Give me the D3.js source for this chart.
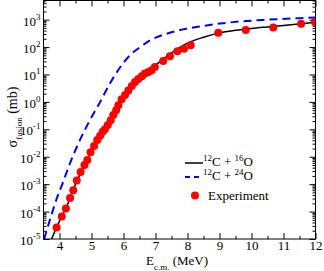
<!DOCTYPE html>
<html lang="en">
<head>
<meta charset="utf-8"/>
<title>12C+16O fusion</title>
<script src="https://d3js.org/d3.v7.min.js"></script>
<style>
  body { margin: 0; background: #fff; }
  svg { display: block; }
  svg text { font-family: 'Liberation Serif', serif !important; fill: #000; }
  .tick line { stroke: #000; }
  .domain { display: none; }
</style>
</head>
<body>
<div id="chart"></div>
<script>
// experiment: energy (MeV) and cross section (mb)
var expE   = [3.91, 4.07, 4.20, 4.33, 4.43, 4.54, 4.66, 4.78, 4.87, 4.97, 5.08, 5.18, 5.27, 5.35, 5.42, 5.51,
              5.60, 5.68, 5.77, 5.84, 5.94, 6.05, 6.15, 6.26, 6.36, 6.46, 6.57, 6.67, 6.78, 6.88, 6.98,
              7.24, 7.45, 7.68, 7.89, 8.10, 8.96, 9.82, 10.68, 11.55, 11.98];
var expSig = [2.6e-5, 6.6e-5, 1.3e-4, 3.1e-4, 6e-4, 1.35e-3, 2.8e-3, 5e-3, 7.6e-3, 1.45e-2, 2.45e-2, 4.1e-2, 5.8e-2, 8.1e-2, 0.10, 0.143,
              0.216, 0.33, 0.5, 0.76, 1.26, 1.8, 2.6, 3.8, 5.3, 6.8, 8.6, 10.8, 12.3, 14.2, 18.7,
              31, 46, 70, 87, 116, 334, 417, 521, 710, 815];

// 12C + 16O calculation
var c16E   = [3.75, 4.0, 4.25, 4.5, 4.75, 5.0, 5.25, 5.5, 5.75, 6.0, 6.25, 6.5, 6.75, 7.0, 7.5, 8.0, 8.5, 9.0, 9.5, 10, 10.5, 11, 11.5, 12];
var c16Sig = [1e-5, 4.5e-5, 1.8e-4, 1.0e-3, 4.2e-3, 1.6e-2, 5.5e-2, 0.17, 0.5, 1.4, 3.6, 8, 14, 22, 62, 140, 230, 330, 410, 480, 545, 615, 700, 800];

// 12C + 24O calculation
var c24E   = [3.52, 3.7, 3.9, 4.1, 4.33, 4.64, 4.95, 5.27, 5.58, 5.89, 6.2, 6.52, 6.83, 7.35, 7.86, 8.39, 9.42, 10.48, 11.52, 12];
var c24Sig = [1e-5, 5e-5, 2.7e-4, 1.1e-3, 5.9e-3, 0.041, 0.216, 1.0, 4.8, 18, 50, 100, 176, 308, 442, 568, 813, 993, 1135, 1200];

var xTicks = [4, 5, 6, 7, 8, 9, 10, 11, 12];
var yExp = [-5, -4, -3, -2, -1, 0, 1, 2, 3];

var W = 324, H = 271;
var L = 43.5, R = 315.5, T = 0.5, B = 239;

var svg = d3.select("#chart").append("svg")
  .attr("width", W)
  .attr("height", H);

var x = d3.scaleLinear().domain([3.5, 12]).range([L, R]);
var y = d3.scaleLog().domain([1e-5, 5000]).range([B, T]);

// tick values
var xMinor = d3.range(3.5, 12.01, 0.5).filter(function(v) { return v % 1 !== 0; });
var yMajor = yExp.map(function(e) { return Math.pow(10, e); });
var yMinor = [];
for (var e = -5; e <= 3; e++) {
  for (var k = 2; k <= 9; k++) {
    var v = k * Math.pow(10, e);
    if (v <= 5000) yMinor.push(v);
  }
}

// bottom / top axes
var gxb = svg.append("g").attr("transform", "translate(0," + B + ")");
gxb.call(d3.axisBottom(x).tickValues(xTicks).tickSize(-6).tickPadding(2).tickFormat(d3.format("d")));
gxb.selectAll("text").attr("font-size", 13).attr("fill", "#000");
gxb.append("g").call(d3.axisBottom(x).tickValues(xMinor).tickSize(-3).tickFormat(""));

var gxt = svg.append("g").attr("transform", "translate(0," + T + ")");
gxt.call(d3.axisTop(x).tickValues(xTicks).tickSize(-6).tickFormat(""));
gxt.append("g").call(d3.axisTop(x).tickValues(xMinor).tickSize(-3).tickFormat(""));

// left / right axes
var gyl = svg.append("g").attr("transform", "translate(" + L + ",0)");
gyl.call(d3.axisLeft(y).tickValues(yMajor).tickSize(-6).tickFormat(""));
gyl.append("g").call(d3.axisLeft(y).tickValues(yMinor).tickSize(-3).tickFormat(""));

var gyr = svg.append("g").attr("transform", "translate(" + R + ",0)");
gyr.call(d3.axisRight(y).tickValues(yMajor).tickSize(-6).tickFormat(""));
gyr.append("g").call(d3.axisRight(y).tickValues(yMinor).tickSize(-3).tickFormat(""));

// y tick labels 10^n
svg.append("g").selectAll("text")
  .data(yExp)
  .enter().append("text")
  .attr("x", L - 3)
  .attr("y", function(d) { return y(Math.pow(10, d)) + 6; })
  .attr("text-anchor", "end")
  .attr("font-size", 13)
  .each(function(d) {
    var t = d3.select(this);
    t.append("tspan").text("10");
    t.append("tspan").attr("dy", -6).attr("font-size", 9).text(d < 0 ? "-" + (-d) : String(d));
  });

// clip
svg.append("clipPath").attr("id", "clip")
  .append("rect").attr("x", L).attr("y", T).attr("width", R - L).attr("height", B - T);

var plot = svg.append("g").attr("clip-path", "url(#clip)");

var line = d3.line()
  .x(function(d) { return x(d[0]); })
  .y(function(d) { return y(d[1]); })
  .curve(d3.curveMonotoneX);

plot.append("path")
  .datum(d3.zip(c24E, c24Sig))
  .attr("d", line)
  .attr("fill", "none")
  .attr("stroke", "#0000ff")
  .attr("stroke-width", 2)
  .attr("stroke-dasharray", "8,5");

plot.append("path")
  .datum(d3.zip(c16E, c16Sig))
  .attr("d", line)
  .attr("fill", "none")
  .attr("stroke", "#000")
  .attr("stroke-width", 1.5);

plot.selectAll("circle")
  .data(d3.zip(expE, expSig))
  .enter().append("circle")
  .attr("cx", function(d) { return x(d[0]); })
  .attr("cy", function(d) { return y(d[1]); })
  .attr("r", 4)
  .attr("fill", "#ff0000");

// frame
svg.append("rect")
  .attr("x", L).attr("y", T)
  .attr("width", R - L).attr("height", B - T)
  .attr("fill", "none")
  .attr("stroke", "#000")
  .attr("stroke-width", 1);

// axis titles
var xt = svg.append("text")
  .attr("x", 146)
  .attr("y", 265)
  .attr("font-size", 13);
xt.append("tspan").text("E");
xt.append("tspan").attr("dy", 4.5).attr("font-size", 9).text("c.m.");
xt.append("tspan").attr("dy", -4.5).text(" (MeV)");

var yt = svg.append("text")
  .attr("transform", "translate(17,117) rotate(-90)")
  .attr("text-anchor", "middle")
  .attr("font-size", 14);
yt.append("tspan").text("\u03c3");
yt.append("tspan").attr("dy", 5).attr("font-size", 9).text("fusion");
yt.append("tspan").attr("dy", -5).text(" (mb)");

// legend
var lg = svg.append("g");
var legRows = [
  { dash: null, color: "#000", y: 163, a: "12", b: "C + ", c: "16", d: "O" },
  { dash: "5,4", color: "#0000ff", y: 177, a: "12", b: "C + ", c: "24", d: "O" }
];
legRows.forEach(function(r) {
  lg.append("line")
    .attr("x1", 185).attr("x2", 203)
    .attr("y1", r.y).attr("y2", r.y)
    .attr("stroke", r.color)
    .attr("stroke-width", r.dash ? 2 : 1.5)
    .attr("stroke-dasharray", r.dash);
  var t = lg.append("text").attr("x", 203).attr("y", r.y + 3).attr("font-size", 13);
  t.append("tspan").attr("dy", -5).attr("font-size", 9).text(r.a);
  t.append("tspan").attr("dy", 5).text(r.b);
  t.append("tspan").attr("dy", -5).attr("font-size", 9).text(r.c);
  t.append("tspan").attr("dy", 5).text(r.d);
});
lg.append("circle").attr("cx", 195).attr("cy", 195.5).attr("r", 4).attr("fill", "#ff0000");
lg.append("text").attr("x", 208).attr("y", 199.5).attr("font-size", 13).text("Experiment");
</script>
</body>
</html>
